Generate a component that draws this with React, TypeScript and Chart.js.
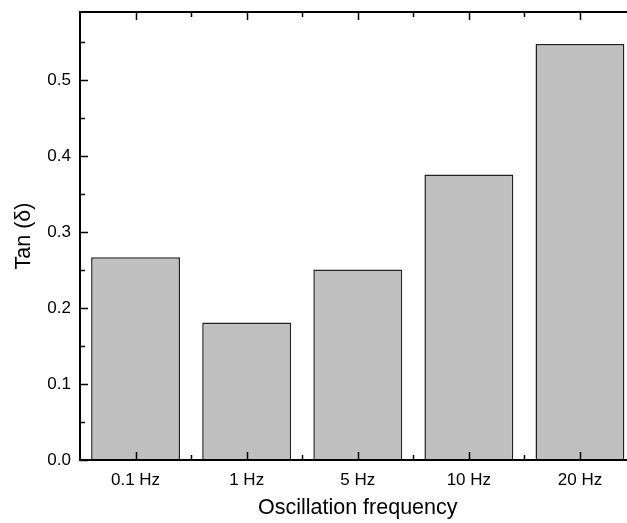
import React, { useEffect, useRef } from "react";
import { Chart, registerables } from "chart.js";

Chart.register(...registerables);

const categories = ["0.1 Hz", "1 Hz", "5 Hz", "10 Hz", "20 Hz"];
const tanDelta = [0.267, 0.181, 0.251, 0.376, 0.548];
const yMin = 0;
const yMax = 0.59;
const yMajorStep = 0.1;
const yMinorStep = 0.05;
const xTitle = "Oscillation frequency";
const yTitle = "Tan (δ)";

const FONT = "'Liberation Sans', Arial, Helvetica, sans-serif";

const framePlugin = {
  id: "originFrame",
  afterDatasetsDraw(chart: any) {
    const { ctx, chartArea } = chart;
    const { left, right, top, bottom } = chartArea;
    const xs = chart.scales.x;
    const ys = chart.scales.y;
    ctx.save();
    ctx.strokeStyle = "#000";
    ctx.lineWidth = 1.5;
    ctx.lineCap = "butt";
    const n = Math.round((yMax - yMin) / yMinorStep);
    for (let i = 0; i <= n; i++) {
      const v = yMin + i * yMinorStep;
      if (v > yMax + 1e-9) break;
      const major = Math.abs(v / yMajorStep - Math.round(v / yMajorStep)) < 1e-6;
      const len = major ? 8 : 5;
      const py = Math.round(ys.getPixelForValue(v)) + 0.5;
      ctx.beginPath();
      ctx.moveTo(left, py);
      ctx.lineTo(left + len, py);
      ctx.moveTo(right, py);
      ctx.lineTo(right - len, py);
      ctx.stroke();
    }
    for (let i = 0; i < categories.length; i++) {
      const px = Math.round(xs.getPixelForValue(i)) + 0.5;
      ctx.beginPath();
      ctx.moveTo(px, bottom);
      ctx.lineTo(px, bottom - 8);
      ctx.moveTo(px, top);
      ctx.lineTo(px, top + 8);
      ctx.stroke();
      if (i < categories.length - 1) {
        const mx = Math.round((xs.getPixelForValue(i) + xs.getPixelForValue(i + 1)) / 2) + 0.5;
        ctx.beginPath();
        ctx.moveTo(mx, bottom);
        ctx.lineTo(mx, bottom - 5);
        ctx.moveTo(mx, top);
        ctx.lineTo(mx, top + 5);
        ctx.stroke();
      }
    }
    ctx.lineWidth = 2;
    ctx.strokeRect(left, top, right - left, bottom - top);
    ctx.restore();
  },
};

export default function App() {
  const ref = useRef<HTMLCanvasElement | null>(null);
  useEffect(() => {
    if (!ref.current) return;
    const chart = new Chart(ref.current, {
      type: "bar",
      data: {
        labels: categories,
        datasets: [
          {
            data: tanDelta,
            backgroundColor: "#c0c0c0",
            borderColor: "#222",
            borderWidth: 1.5,
            barPercentage: 0.8,
            categoryPercentage: 1,
          },
        ],
      },
      options: {
        responsive: false,
        animation: false,
        layout: { padding: { top: 12, right: 4.5, left: 0, bottom: 0 } },
        plugins: {
          legend: { display: false },
          tooltip: { enabled: false },
          title: { display: false },
        },
        scales: {
          x: {
            offset: true,
            grid: { display: false, drawTicks: false },
            border: { display: false },
            ticks: {
              color: "#000",
              padding: 10,
              font: { family: FONT, size: 17 },
            },
            title: {
              display: true,
              text: xTitle,
              color: "#000",
              font: { family: FONT, size: 21.5 },
              padding: { top: 0, bottom: 2 },
            },
            afterFit: (s: any) => {
              s.height = 63;
              s.paddingLeft = 0;
              s.paddingRight = 0;
            },
          },
          y: {
            min: yMin,
            max: yMax,
            grid: { display: false, drawTicks: false },
            border: { display: false },
            ticks: {
              stepSize: yMajorStep,
              includeBounds: false,
              color: "#000",
              padding: 9,
              font: { family: FONT, size: 17 },
              callback: (v: any) => Number(v).toFixed(1),
            },
            title: {
              display: true,
              text: yTitle,
              color: "#000",
              font: { family: FONT, size: 21.5 },
              padding: { top: 11, bottom: 0 },
            },
            afterFit: (s: any) => {
              s.width = 80;
              s.paddingTop = 0;
              s.paddingBottom = 0;
            },
          },
        },
      },
      plugins: [framePlugin],
    });
    return () => chart.destroy();
  }, []);
  return (
    <div style={{ position: "fixed", left: 0, top: 0, width: 640, height: 523, overflow: "hidden", background: "#fff" }}>
      <canvas ref={ref} width={640} height={523} style={{ display: "block" }} />
    </div>
  );
}
